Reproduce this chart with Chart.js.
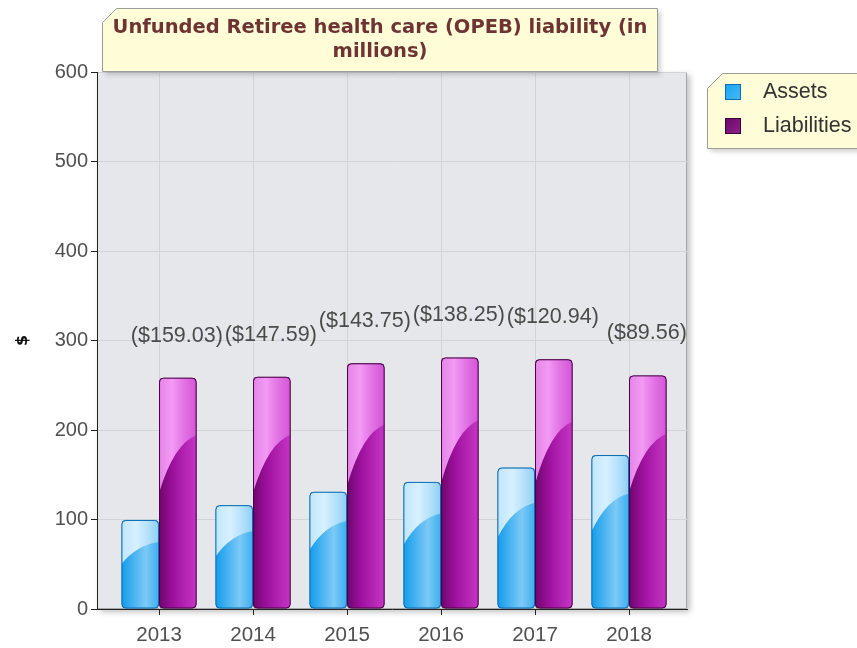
<!DOCTYPE html>
<html>
<head>
<meta charset="utf-8">
<script src="https://cdn.jsdelivr.net/npm/chart.js@4.4.0/dist/chart.umd.min.js"></script>
<style>
  html, body { margin: 0; padding: 0; background: #fff; }
  #wrap { width: 857px; height: 648px; }
</style>
</head>
<body>
<div id="wrap"><canvas id="opebChart" width="857" height="648"></canvas></div>
<script>
// Values (millions)
const years = [2013, 2014, 2015, 2016, 2017, 2018];
const assets = [99.5, 116, 131, 142, 158, 172];
const liabilities = [258.5, 259.5, 274.5, 281, 279, 261];
const unfunded = [159.03, 147.59, 143.75, 138.25, 120.94, 89.56];
const titleLines = ['Unfunded Retiree health care (OPEB) liability (in', 'millions)'];
const seriesNames = ['Assets', 'Liabilities'];

const FONT = "'Liberation Sans', Arial, sans-serif";
const TITLE_FONT = "'DejaVu Sans', Verdana, sans-serif";

// base (horizontal) and gloss colours per series
const barStyles = [
    {
        base: [[0, '#139cec'], [0.65, '#7cc9f5'], [1, '#3caef0']],
        gloss: [[0, 'rgba(205,236,255,0.92)'], [0.4, 'rgba(222,243,255,0.95)'], [1, 'rgba(160,215,248,0.8)']],
        border: '#0b6db3'
    },
    {
        base: [[0, '#6e066c'], [0.4, '#a012a0'], [1, '#c636c6']],
        gloss: [[0, 'rgba(244,150,246,0.88)'], [0.35, 'rgba(250,166,252,0.92)'], [1, 'rgba(218,96,222,0.75)']],
        border: '#4c004a'
    }
];

function roundRectPath(ctx, x, y, w, h, r) {
    ctx.beginPath();
    ctx.moveTo(x + r, y);
    ctx.lineTo(x + w - r, y);
    ctx.quadraticCurveTo(x + w, y, x + w, y + r);
    ctx.lineTo(x + w, y + h - r);
    ctx.quadraticCurveTo(x + w, y + h, x + w - r, y + h);
    ctx.lineTo(x + r, y + h);
    ctx.quadraticCurveTo(x, y + h, x, y + h - r);
    ctx.lineTo(x, y + r);
    ctx.quadraticCurveTo(x, y, x + r, y);
    ctx.closePath();
}

function hGradient(ctx, l, r, stops) {
    const g = ctx.createLinearGradient(l, 0, r, 0);
    stops.forEach(([p, c]) => g.addColorStop(p, c));
    return g;
}

// plot background with drop shadow
const plotBackground = {
    id: 'plotBackground',
    beforeDraw(chart) {
        const { ctx, chartArea: a } = chart;
        ctx.save();
        ctx.shadowColor = 'rgba(0,0,0,0.25)';
        ctx.shadowBlur = 6;
        ctx.shadowOffsetX = 3;
        ctx.shadowOffsetY = 3;
        ctx.fillStyle = '#e5e7ea';
        ctx.fillRect(a.left, a.top, a.right - a.left, a.bottom - a.top);
        ctx.restore();
        ctx.save();
        ctx.strokeStyle = '#a8a8a8';
        ctx.lineWidth = 1;
        ctx.strokeRect(a.left + 0.5, a.top + 0.5, a.right - a.left - 1, a.bottom - a.top - 1);
        ctx.restore();
    }
};

// glossy fill painted inside each bar element
const glossyBars = {
    id: 'glossyBars',
    afterDatasetsDraw(chart) {
        const ctx = chart.ctx;
        chart.data.datasets.forEach((ds, di) => {
            const style = barStyles[di];
            chart.getDatasetMeta(di).data.forEach(bar => {
                const { x, y, base, width } = bar.getProps(['x', 'y', 'base', 'width'], true);
                const l = x - width / 2, r = x + width / 2, h = base - y;
                ctx.save();
                roundRectPath(ctx, l + 0.5, y + 0.5, width - 1, h - 1, 4);
                ctx.clip();
                ctx.fillStyle = hGradient(ctx, l, r, style.base);
                ctx.fillRect(l, y, width, h);
                ctx.beginPath();
                ctx.moveTo(l, y);
                ctx.lineTo(r, y);
                ctx.lineTo(r, y + h * 0.25);
                ctx.quadraticCurveTo(l + width * 0.4, y + h * 0.285, l, y + h * 0.5);
                ctx.closePath();
                ctx.fillStyle = hGradient(ctx, l, r, style.gloss);
                ctx.fill();
                ctx.restore();
                ctx.save();
                roundRectPath(ctx, l + 0.5, y + 0.5, width - 1, h - 1, 4);
                ctx.strokeStyle = style.border;
                ctx.lineWidth = 1;
                ctx.stroke();
                ctx.restore();
            });
        });

        // unfunded amount above each liabilities bar
        const meta = chart.getDatasetMeta(1);
        ctx.save();
        ctx.font = '21.5px ' + FONT;
        ctx.fillStyle = '#4a4a4a';
        ctx.textAlign = 'center';
        ctx.textBaseline = 'middle';
        meta.data.forEach((bar, i) => {
            ctx.fillText('($' + unfunded[i].toFixed(2) + ')', bar.x - 1, bar.y - 42);
        });
        ctx.restore();
    }
};

function notchedBox(ctx, l, t, r, b, cut) {
    ctx.beginPath();
    ctx.moveTo(l, t + cut);
    ctx.lineTo(l + cut, t);
    ctx.lineTo(r, t);
    ctx.lineTo(r, b);
    ctx.lineTo(l, b);
    ctx.closePath();
}

// title and legend drawn as note-style boxes
const noteBoxes = {
    id: 'noteBoxes',
    afterDraw(chart) {
        const ctx = chart.ctx;
        const boxes = [
            { l: 102.5, t: 8.5, r: 657.5, b: 71.5, cut: 14 },
            { l: 707.5, t: 73.5, r: 870, b: 148.5, cut: 15 }
        ];
        boxes.forEach(bx => {
            ctx.save();
            ctx.shadowColor = 'rgba(0,0,0,0.2)';
            ctx.shadowBlur = 5;
            ctx.shadowOffsetX = 3;
            ctx.shadowOffsetY = 3;
            notchedBox(ctx, bx.l, bx.t, bx.r, bx.b, bx.cut);
            ctx.fillStyle = '#fffdd8';
            ctx.fill();
            ctx.restore();
            ctx.save();
            notchedBox(ctx, bx.l, bx.t, bx.r, bx.b, bx.cut);
            ctx.strokeStyle = '#9c9c9c';
            ctx.lineWidth = 1;
            ctx.stroke();
            ctx.restore();
        });

        ctx.save();
        ctx.font = 'bold 19.5px ' + TITLE_FONT;
        ctx.fillStyle = '#6e3434';
        ctx.textAlign = 'center';
        ctx.textBaseline = 'middle';
        ctx.fillText(titleLines[0], 380, 28);
        ctx.fillText(titleLines[1], 380, 52);
        ctx.restore();

        const swatch = [
            { y: 84, fill: ['#1aa3f3', '#48b8f6'], border: '#0b6db3' },
            { y: 118, fill: ['#6a0868', '#8e228c'], border: '#3c003a' }
        ];
        ctx.save();
        ctx.font = '21.5px ' + FONT;
        ctx.textBaseline = 'middle';
        swatch.forEach((s, i) => {
            const g = ctx.createLinearGradient(725, s.y, 741, s.y + 16);
            g.addColorStop(0, s.fill[0]);
            g.addColorStop(1, s.fill[1]);
            ctx.fillStyle = g;
            ctx.fillRect(725, s.y, 16, 16);
            ctx.strokeStyle = s.border;
            ctx.strokeRect(725.5, s.y + 0.5, 15, 15);
            ctx.fillStyle = '#333';
            ctx.fillText(seriesNames[i], 763, s.y + 8);
        });
        ctx.restore();
    }
};

const ctx = document.getElementById('opebChart');

new Chart(ctx, {
    type: 'bar',
    data: {
        datasets: [
            {
                label: seriesNames[0],
                data: years.map((yr, i) => ({ x: yr, y: assets[i] })),
                backgroundColor: '#2aa8f0',
                borderColor: barStyles[0].border,
                borderWidth: 1,
                borderRadius: 4,
                borderSkipped: false,
                categoryPercentage: 0.8,
                barPercentage: 1.0
            },
            {
                label: seriesNames[1],
                data: years.map((yr, i) => ({ x: yr, y: liabilities[i] })),
                backgroundColor: '#a012a0',
                borderColor: barStyles[1].border,
                borderWidth: 1,
                borderRadius: 4,
                borderSkipped: false,
                categoryPercentage: 0.8,
                barPercentage: 1.0
            }
        ]
    },
    options: {
        responsive: false,
        animation: false,
        layout: { padding: { left: 10, top: 72, right: 170, bottom: 0 } },
        plugins: {
            legend: { display: false },
            title: { display: false },
            tooltip: { enabled: false }
        },
        scales: {
            x: {
                type: 'linear',
                offset: false,
                min: 2012.34,
                max: 2018.617,
                afterBuildTicks: (scale) => { scale.ticks = years.map(v => ({ value: v })); },
                afterFit: (scale) => { scale.height = 39; },
                grid: { offset: false, color: '#d2d4d7', tickColor: '#222', tickLength: 6 },
                border: { color: '#222', width: 1 },
                ticks: {
                    color: '#505050',
                    padding: 8,
                    font: { family: FONT, size: 20.5 },
                    callback: (v) => String(v)
                }
            },
            y: {
                min: 0,
                max: 600,
                afterFit: (scale) => { scale.width = 87; },
                grid: { color: '#d2d4d7', tickColor: '#222', tickLength: 6 },
                border: { color: '#222', width: 1 },
                ticks: {
                    stepSize: 100,
                    color: '#505050',
                    padding: 3,
                    font: { family: FONT, size: 20 }
                },
                title: {
                    display: true,
                    text: '$',
                    color: '#111',
                    padding: { top: 3, bottom: 0 },
                    font: { family: TITLE_FONT, size: 16, weight: 'bold' }
                }
            }
        }
    },
    plugins: [plotBackground, glossyBars, noteBoxes]
});
</script>
</body>
</html>
